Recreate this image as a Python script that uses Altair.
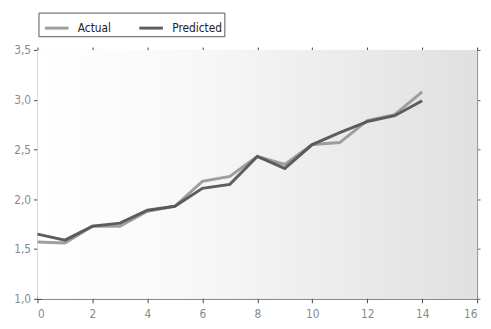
import altair as alt
import pandas as pd

x_vals = list(range(15))
actual = [1.57, 1.56, 1.73, 1.73, 1.88, 1.93, 2.18, 2.23, 2.43, 2.35, 2.55, 2.57, 2.79, 2.85, 3.08]
predicted = [1.65, 1.59, 1.73, 1.76, 1.89, 1.93, 2.11, 2.15, 2.43, 2.31, 2.55, 2.67, 2.78, 2.84, 2.99]
series_names = ["Actual", "Predicted"]
series_colors = ["#999999", "#555555"]
x_domain = [0, 16]
y_domain = [1.0, 3.5]
x_ticks = list(range(0, 17, 2))
y_ticks = [1.0, 1.5, 2.0, 2.5, 3.0, 3.5]

rows = []
for i, x in enumerate(x_vals):
    rows.append({"x": x, "value": actual[i], "series": "Actual"})
    rows.append({"x": x, "value": predicted[i], "series": "Predicted"})
df = pd.DataFrame(rows)
bg = pd.DataFrame([{"x": x_domain[0], "x2": x_domain[1], "value": y_domain[0], "value2": y_domain[1]}])

FONT = "DejaVu Sans Condensed"

xscale = alt.Scale(domain=x_domain, nice=False, zero=False)
yscale = alt.Scale(domain=y_domain, nice=False, zero=False)

label_expr = "replace(format(datum.value, '.1f'), '.', ',')"

background = alt.Chart(bg).mark_rect(
    color=alt.LinearGradient(
        gradient="linear", x1=0, y1=0, x2=1, y2=0,
        stops=[alt.GradientStop(offset=0, color="#ffffff"),
               alt.GradientStop(offset=0.35, color="#f8f8f8"),
               alt.GradientStop(offset=1, color="#e0e0e0")],
    )
).encode(
    x=alt.X("x:Q", scale=xscale,
            axis=alt.Axis(title=None, values=x_ticks, tickSize=4,
                          labelPadding=6, domainColor="#6a6a6a", tickColor="#444444",
                          labelColor="#8a8a8a", labelFontSize=12, labelFont=FONT,
                          grid=False)),
    x2="x2:Q",
    y=alt.Y("value:Q", scale=yscale,
            axis=alt.Axis(title=None, values=y_ticks, tickSize=4,
                          labelExpr=label_expr, labelPadding=3, domainColor="#6a6a6a",
                          tickColor="#444444", labelColor="#8a8a8a", labelFontSize=12,
                          labelFont=FONT, grid=False)),
    y2="value2:Q",
)

lines = alt.Chart(df).mark_line(strokeWidth=3, opacity=0.95).encode(
    x=alt.X("x:Q", scale=xscale, axis=None),
    y=alt.Y("value:Q", scale=yscale, axis=None),
    color=alt.Color("series:N",
                    scale=alt.Scale(domain=series_names, range=series_colors),
                    legend=alt.Legend(title=None, orient="none", legendX=1, legendY=-38,
                                      direction="horizontal", symbolType="stroke",
                                      symbolSize=576, symbolStrokeWidth=3,
                                      labelFont=FONT, labelFontSize=12, labelColor="#222222",
                                      columnPadding=22, symbolOffset=3, labelOffset=8,
                                      padding=2, strokeColor="#555555",
                                      fillColor="#ffffff")),
    order=alt.Order("series:N"),
)

frame = alt.Chart(df).mark_point(opacity=0).encode(
    x=alt.X("x:Q", scale=xscale,
            axis=alt.Axis(orient="top", title=None, labels=False, values=x_ticks,
                          tickSize=3, domainColor="#6a6a6a", tickColor="#444444", grid=False)),
    y=alt.Y("value:Q", scale=yscale,
            axis=alt.Axis(orient="right", title=None, labels=False, values=y_ticks,
                          tickSize=3, domainColor="#8a8a8a", tickColor="#666666", grid=False)),
)

inner_ticks = alt.Chart(df).mark_point(opacity=0).encode(
    x=alt.X("x:Q", scale=xscale,
            axis=alt.Axis(orient="bottom", title=None, labels=False, values=x_ticks,
                          domain=False, offset=-4, tickSize=4, tickColor="#444444",
                          grid=False)),
    y=alt.Y("value:Q", scale=yscale,
            axis=alt.Axis(orient="left", title=None, labels=False, values=y_ticks,
                          domain=False, offset=-4, tickSize=4, tickColor="#444444",
                          grid=False)),
)

chart = alt.layer(background, lines, frame, inner_ticks).resolve_axis(
    x="independent", y="independent"
).properties(
    width=447, height=253,
    autosize=alt.AutoSizeParams(type="none"),
    padding={"left": 30, "top": 40, "right": 6, "bottom": 28},
    background="#ffffff",
).configure_view(stroke=None)

chart.save("out.html", embed_options={"renderer": "svg", "actions": False})
